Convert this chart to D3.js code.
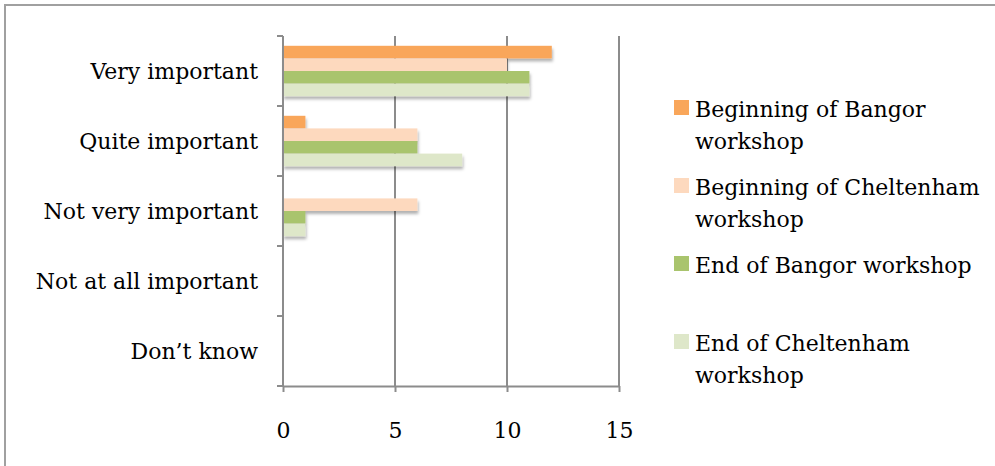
<!DOCTYPE html>
<html>
<head>
<meta charset="utf-8">
<script src="https://cdn.jsdelivr.net/npm/d3@7"></script>
<style>
  body { margin: 0; background: #fff; }
  text { font-family: "DejaVu Serif", serif; fill: #000; }
</style>
</head>
<body>
<div id="chart"></div>
<script>
const categories = ["Very important", "Quite important", "Not very important", "Not at all important", "Don\u2019t know"];
const seriesNames = ["Beginning of Bangor workshop", "Beginning of Cheltenham workshop", "End of Bangor workshop", "End of Cheltenham workshop"];
const bangorStart = [12, 1, 0, 0, 0];
const cheltenhamStart = [10, 6, 6, 0, 0];
const bangorEnd = [11, 6, 1, 0, 0];
const cheltenhamEnd = [11, 8, 1, 0, 0];
const xTicks = [0, 5, 10, 15];

const colors = ["#f9a65a", "#fdd9be", "#a9c46d", "#dee7c9"];
const series = [bangorStart, cheltenhamStart, bangorEnd, cheltenhamEnd];

let w = 995, h = 466,
    margin = ({ top: 36, right: 376, bottom: 80, left: 283 });

const svg = d3.select("#chart")
  .append("svg")
  .attr("width", w)
  .attr("height", h);

// outer border (runs off the bottom/right edge)
svg.append("rect")
  .attr("x", 5).attr("y", 5)
  .attr("width", 1100).attr("height", 600)
  .attr("fill", "none")
  .attr("stroke", "#a0a0a0")
  .attr("stroke-width", 2);

const defs = svg.append("defs");
const f = defs.append("filter").attr("id", "shadow")
  .attr("x", "-10%").attr("y", "-30%").attr("width", "130%").attr("height", "200%");
f.append("feDropShadow")
  .attr("dx", 1).attr("dy", 3).attr("stdDeviation", 1.5)
  .attr("flood-color", "#000").attr("flood-opacity", 0.3);

let x = d3.scaleLinear()
  .domain([0, 15])
  .range([margin.left, w - margin.right]);

let y = d3.scaleBand()
  .domain(categories)
  .range([margin.top, h - margin.bottom])
  .paddingInner(0.28)
  .paddingOuter(0.14);

let ySub = d3.scaleBand()
  .domain(d3.range(series.length))
  .range([0, y.bandwidth()]);

// gridlines
svg.append("g")
  .attr("class", "grid")
  .selectAll("line")
  .data(xTicks.slice(1))
  .join("line")
  .attr("x1", d => x(d)).attr("x2", d => x(d))
  .attr("y1", margin.top).attr("y2", h - margin.bottom)
  .attr("stroke", "#8c8c8c")
  .attr("stroke-width", 2);

// bars
const rows = categories.map((c, i) => ({ cat: c, vals: series.map(s => s[i]) }));
svg.append("g")
  .selectAll("g")
  .data(rows)
  .join("g")
  .attr("transform", d => `translate(0,${y(d.cat)})`)
  .selectAll("rect")
  .data(d => d.vals.map((v, j) => ({ v, j })).filter(e => e.v > 0))
  .join("rect")
  .attr("x", x(0))
  .attr("y", d => ySub(d.j))
  .attr("width", d => x(d.v) - x(0))
  .attr("height", ySub.bandwidth())
  .attr("fill", d => colors[d.j])
  .attr("filter", "url(#shadow)");

// y axis line with ticks at category boundaries
const boundaries = d3.range(categories.length + 1).map(i => margin.top + i * y.step());
const yAxis = svg.append("g").attr("class", "y-axis");
yAxis.append("line")
  .attr("x1", x(0)).attr("x2", x(0))
  .attr("y1", margin.top).attr("y2", h - margin.bottom)
  .attr("stroke", "#8c8c8c").attr("stroke-width", 2);
yAxis.selectAll(".tick")
  .data(boundaries)
  .join("line")
  .attr("x1", x(0) - 6).attr("x2", x(0))
  .attr("y1", d => d).attr("y2", d => d)
  .attr("stroke", "#8c8c8c").attr("stroke-width", 2);
yAxis.selectAll("text")
  .data(categories)
  .join("text")
  .attr("x", 258)
  .attr("y", d => y(d) + y.bandwidth() / 2)
  .attr("dy", "0.35em")
  .attr("text-anchor", "end")
  .style("font-size", "22px")
  .text(d => d);

// x axis
svg.append("g")
  .attr("class", "x-axis")
  .attr("transform", `translate(0,${h - margin.bottom})`)
  .call(d3.axisBottom(x).tickValues(xTicks).tickSize(6).tickPadding(30).tickSizeOuter(0))
  .call(g => g.select(".domain").attr("stroke", "#8c8c8c").attr("stroke-width", 2))
  .call(g => g.selectAll(".tick line").attr("stroke", "#8c8c8c").attr("stroke-width", 2))
  .call(g => g.selectAll(".tick text").style("font-size", "22px").attr("font-family", null).attr("fill", "#000"));

// legend
const legendLines = [
  ["Beginning of Bangor", "workshop"],
  ["Beginning of Cheltenham", "workshop"],
  ["End of Bangor workshop"],
  ["End of Cheltenham", "workshop"]
];
const legendTop = [100, 178, 256, 334];
const legend = svg.append("g").attr("class", "legend");
seriesNames.forEach((name, i) => {
  const g = legend.append("g").attr("transform", `translate(674,${legendTop[i]})`);
  g.append("rect").attr("width", 15).attr("height", 15).attr("fill", colors[i]);
  g.append("text")
    .attr("x", 21)
    .attr("y", 9)
    .style("font-size", "22px")
    .selectAll("tspan")
    .data(legendLines[i])
    .join("tspan")
    .attr("x", 21)
    .attr("dy", (d, k) => k === 0 ? "0.35em" : "32px")
    .text(d => d);
});
</script>
</body>
</html>
